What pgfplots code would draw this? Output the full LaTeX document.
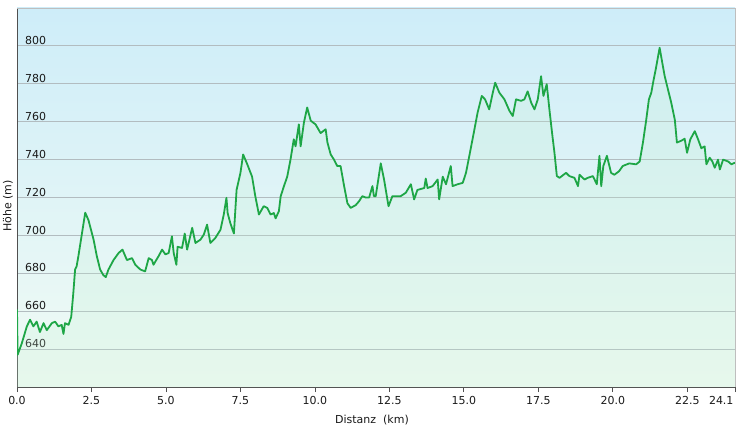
\documentclass[border=0pt]{standalone}
\usepackage{pgfplots}
\pgfplotsset{compat=1.18}
\usepackage{pgfplotstable}
\usepackage{fontspec}
\setmainfont{DejaVu Sans}
\definecolor{lineg}{RGB}{30,166,70}
\definecolor{bgtop}{RGB}{206,237,249}
\definecolor{bgbot}{RGB}{241,251,244}
\definecolor{gridc}{RGB}{178,188,192}
\definecolor{fillg}{RGB}{195,240,210}
\definecolor{axc}{RGB}{80,80,80}
\definecolor{bordc}{RGB}{190,190,190}
\definecolor{txtc}{RGB}{25,25,25}

\pgfplotstableread{
d h
0 661
0.02 637
0.16 643
0.33 652
0.44 655.5
0.55 652
0.66 654.5
0.77 649
0.89 653.7
1.0 650
1.17 653.7
1.28 654.5
1.39 652
1.5 652.8
1.56 648
1.61 653.7
1.73 652.8
1.82 657
1.89 669.5
1.95 682
2.0 683.6
2.06 689
2.18 701
2.29 712
2.4 708
2.57 697.8
2.68 689
2.79 682
2.9 679
2.98 678
3.07 682
3.24 687
3.41 690.7
3.54 692.5
3.69 687
3.86 688
3.97 684.5
4.14 682
4.3 681
4.42 688
4.53 687
4.58 684.5
4.75 689
4.87 692.5
4.98 690
5.09 690.7
5.2 699.5
5.26 690.7
5.35 684.5
5.39 694
5.54 693.4
5.63 701
5.71 692.5
5.88 704
5.99 696
6.16 697.8
6.27 700.4
6.38 705.7
6.49 696
6.66 698.7
6.83 703
6.94 711
7.03 719.8
7.07 711.8
7.16 706.5
7.28 701
7.37 724
7.5 733
7.59 742.7
7.73 737.5
7.89 731
8.0 720.6
8.12 711
8.28 715.4
8.4 714.5
8.51 711
8.62 711.8
8.68 709
8.79 712.8
8.85 720.6
8.96 726
9.07 731
9.18 740
9.29 750.7
9.35 747
9.46 758.6
9.52 747
9.63 759.5
9.74 767.5
9.86 760.5
10.02 758.6
10.19 754
10.36 756
10.42 749
10.53 742.7
10.64 740
10.75 736.6
10.86 736.6
10.98 726
11.09 717
11.2 714.5
11.37 716
11.48 718
11.59 720.7
11.7 720
11.82 720
11.93 726
11.98 720.7
12.04 720.7
12.21 738
12.32 729.5
12.47 715.4
12.6 720.7
12.71 720.7
12.88 720.7
13.05 722.5
13.22 727
13.33 719
13.44 724
13.67 725
13.72 730
13.78 725
13.95 726
14.12 729.5
14.17 719
14.29 731
14.4 727
14.56 736.6
14.62 726
14.79 727
14.96 727.7
15.07 733
15.18 741.8
15.33 754
15.46 764.8
15.6 773.6
15.71 771.8
15.85 766.5
15.97 775.3
16.05 780.6
16.19 775.3
16.36 771.8
16.53 765.7
16.64 763
16.75 771.8
16.92 771
17.03 771.8
17.14 776
17.26 770
17.37 766.5
17.48 771.8
17.59 784
17.67 773.6
17.78 779.8
17.87 766.5
17.96 754
18.04 743.6
18.12 731.3
18.21 730.4
18.43 733
18.54 731.3
18.71 730.4
18.83 726
18.88 732
19.05 729.5
19.16 730.4
19.33 731.3
19.46 727
19.55 742
19.61 726
19.68 736.6
19.8 742
19.94 733
20.05 732
20.21 733.9
20.33 736.6
20.55 738
20.78 737.5
20.9 739
21.01 749
21.12 761
21.21 771.8
21.29 775.3
21.35 780.6
21.44 787.7
21.52 794.7
21.57 799
21.66 791
21.74 784
21.85 777
21.96 770
22.08 761
22.15 749
22.3 750
22.41 751
22.49 743.6
22.6 750.7
22.75 755
22.86 750.7
22.97 746
23.08 747
23.14 737.5
23.25 741
23.34 739
23.42 735.7
23.53 740
23.59 734.8
23.7 740
23.87 739
23.98 737.5
24.1 738.4
}\profile

\begin{document}
\begin{tikzpicture}[x=1bp,y=1bp]
\path[use as bounding box] (0,0) rectangle (744,428);
\begin{axis}[
  at={(17bp,41bp)}, anchor=south west,
  scale only axis, width=718bp, height=379bp,
  xmin=0, xmax=24.1, ymin=620, ymax=820,
  axis background/.style={shade, top color=bgtop, bottom color=bgbot},
  axis lines=left,
  axis line style={-, draw=axc, line width=0.9bp},
  xtick={0,2.5,5,7.5,10,12.5,15,17.5,20,22.5},
  xticklabels={0.0,2.5,5.0,7.5,10.0,12.5,15.0,17.5,20.0,22.5},
  extra x ticks={24.1},
  extra x tick labels={24.1},
  extra x tick style={xticklabel style={anchor=north east, xshift=2bp}},
  ytick={640,660,680,700,720,740,760,780,800},
  yticklabels={640,660,680,700,720,740,760,780,800},
  tick align=outside,
  major tick length=5bp,
  xtick style={draw=axc, line width=0.8bp},
  ytick style={draw=none},
  ymajorgrids,
  grid style={draw=gridc, line width=0.9bp},
  every tick label/.append style={font=\fontsize{11bp}{13bp}\selectfont, text=txtc},
  yticklabel style={anchor=south west, xshift=11bp, yshift=-1bp, inner sep=2bp},
  xticklabel style={yshift=-1bp},
  clip mode=individual,
]
\addplot[draw=none, fill=fillg, fill opacity=0.22] table[x=d, y=h] {\profile} \closedcycle;
\addplot[color=lineg, line width=1.8bp, line join=round] table[x=d, y=h] {\profile};
\draw[bordc, line width=0.9bp] (rel axis cs:0,1) -- (rel axis cs:1,1) -- (rel axis cs:1,0);
\end{axis}
\node[rotate=90, font=\fontsize{11bp}{13bp}\selectfont, text=txtc] at (8,222) {Höhe (m)};
\node[font=\fontsize{11bp}{13bp}\selectfont, text=txtc] at (372,8) {Distanz\ \ (km)};
\end{tikzpicture}
\end{document}
